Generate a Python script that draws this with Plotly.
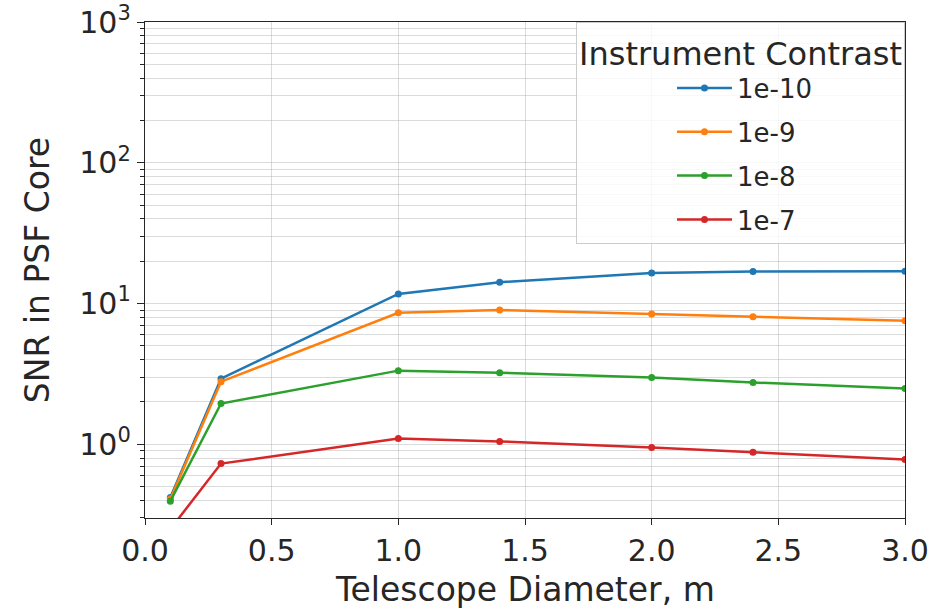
import plotly.graph_objects as go

# Telescope diameter (m) and SNR for each instrument contrast level
diameter = [0.1, 0.3, 1.0, 1.4, 2.0, 2.4, 3.0]
contrast_labels = ["1e-10", "1e-9", "1e-8", "1e-7"]
snr_1e10 = [0.42, 2.93, 11.7, 14.2, 16.5, 16.9, 17.0]
snr_1e9 = [0.41, 2.79, 8.6, 9.0, 8.45, 8.05, 7.55]
snr_1e8 = [0.395, 1.95, 3.34, 3.23, 2.98, 2.75, 2.49]
snr_1e7 = [0.25, 0.73, 1.10, 1.05, 0.95, 0.88, 0.78]
series = [snr_1e10, snr_1e9, snr_1e8, snr_1e7]
colors = ["#1f77b4", "#ff7f0e", "#2ca02c", "#d62728"]

y_tickvals = [1, 10, 100, 1000]
y_ticktext = ["10<sup>0</sup>", "10<sup>1</sup>", "10<sup>2</sup>", "10<sup>3</sup>"]
y_minor_vals = [m * 10.0 ** e for e in range(-1, 3) for m in range(2, 10)]
x_tickvals = [0.0, 0.5, 1.0, 1.5, 2.0, 2.5, 3.0]
x_ticktext = ["0.0", "0.5", "1.0", "1.5", "2.0", "2.5", "3.0"]

FONT = "DejaVu Sans"
TXT = "#262626"

fig = go.Figure()
for label, vals, col in zip(contrast_labels, series, colors):
    fig.add_trace(go.Scatter(
        x=diameter, y=vals, name=label, mode="lines+markers",
        legendgroup=label,
        line=dict(color=col, width=2.5),
        marker=dict(color=col, size=7),
    ))

grid_col = "rgba(176,176,176,0.45)"
fig.update_layout(
    width=931, height=610,
    margin=dict(l=145, r=26, t=22, b=92),
    paper_bgcolor="white", plot_bgcolor="white",
    font=dict(family=FONT, size=26, color=TXT),
    showlegend=True,
    legend=dict(
        x=1.0, y=1.0, xanchor="right", yanchor="top",
        bgcolor="rgba(255,255,255,0.8)", bordercolor="#cccccc", borderwidth=1,
        title=dict(text="Instrument Contrast", side="top center",
                   font=dict(family=FONT, size=32, color=TXT)),
        font=dict(family=FONT, size=26, color=TXT),
        itemwidth=55, tracegroupgap=7, indentation=95,
    ),
    xaxis=dict(
        range=[0, 3.0], tickvals=x_tickvals, ticktext=x_ticktext,
        automargin=False,
        showgrid=True, gridcolor=grid_col, gridwidth=1,
        ticks="outside", ticklen=6, tickwidth=1.2, tickcolor=TXT,
        showline=True, linecolor=TXT, linewidth=1.3, mirror=True,
        zeroline=False,
        tickfont=dict(family=FONT, size=30, color=TXT),
    ),
    yaxis=dict(
        type="log", range=[-0.523, 3.0],
        tickvals=y_tickvals, ticktext=y_ticktext,
        automargin=False,
        showgrid=True, gridcolor=grid_col, gridwidth=1,
        ticks="outside", ticklen=7, tickwidth=1.2, tickcolor=TXT,
        showline=True, linecolor=TXT, linewidth=1.3, mirror=True,
        zeroline=False,
        minor=dict(tickvals=y_minor_vals, ticks="outside", ticklen=4,
                   tickwidth=1, tickcolor=TXT,
                   showgrid=True, gridcolor=grid_col, gridwidth=1),
        tickfont=dict(family=FONT, size=30, color=TXT),
        title=dict(text="SNR in PSF Core", standoff=19,
                   font=dict(family=FONT, size=33, color=TXT)),
    ),
    annotations=[dict(
        text="Telescope Diameter, m", xref="paper", yref="paper",
        x=0.5, y=-0.145, xanchor="center", yanchor="middle", showarrow=False,
        font=dict(family=FONT, size=33, color=TXT),
    )],
)

fig.write_html("out.html")
